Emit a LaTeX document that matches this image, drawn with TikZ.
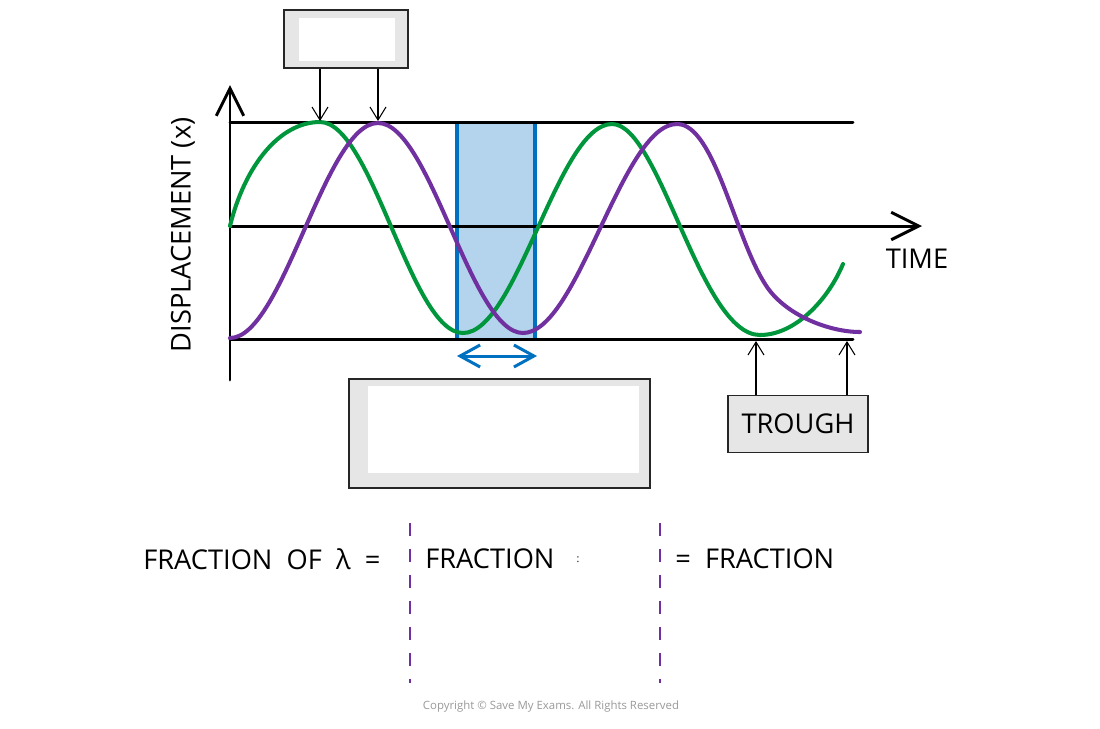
\documentclass[tikz,border=0pt]{standalone}
\usepackage{fontspec}
\setmainfont{Open Sans}
\usetikzlibrary{arrows.meta}

\definecolor{wavegreen}{HTML}{00963C}
\definecolor{wavepurple}{HTML}{7030A0}
\definecolor{markblue}{HTML}{0070C0}
\definecolor{shadeblue}{HTML}{B3D4EC}
\definecolor{boxgrey}{HTML}{E6E6E6}

\tikzset{
  label/.style={font=\fontsize{15.5}{18}\selectfont, inner sep=0pt},
  greybox/.style={draw=black!85, fill=boxgrey, line width=0.7pt, inner sep=0pt},
  pointer/.style={line width=0.6pt, -{Straight Barb[length=2.6mm, width=3.2mm]}},
  axis/.style={line width=1.7pt, line cap=round},
  wave/.style={line width=2.3pt, line cap=round},
}

\begin{document}
\begin{tikzpicture}[x=0.02cm, y=-0.02cm]
\useasboundingbox (0,0) rectangle (1100,728);

%% The shaded strip between two points in phase goes underneath everything else
    \fill[shadeblue] (457,122) rectangle (535,339);
    \draw[markblue, line width=2.2pt] (457,122) -- (457,339);
    \draw[markblue, line width=2.2pt] (535,122) -- (535,339);

%% Axes and the lines for the peaks and the troughs
    \coordinate (origin) at (230,380);
    \coordinate (ytop) at (230,85);
    \coordinate (xend) at (922,226);
    \draw[axis, -{Straight Barb[length=5.5mm, width=5.5mm]}] (origin) -- (ytop);
    \draw[axis, -{Straight Barb[length=5.5mm, width=5.5mm]}] (230,226) -- (xend);
    \draw[axis] (230,122) -- (853,122);
    \draw[axis] (230,339) -- (853,339);

    \node[label] (time) at (917,259) {TIME};
    \node[label, rotate=90] (disp) at (183,235) {DISPLACEMENT (x)};

%% The two waves, one cubic piece from each crest to the next trough
    \draw[wave, wavegreen] (230,226) .. controls (245,165) and (280,122) .. (320,122)
      .. controls (372,122) and (411,333) .. (463,333)
      .. controls (517,333) and (558,124) .. (612,124)
      .. controls (660,124) and (700,335) .. (760,335)
      .. controls (795,335) and (828,300) .. (843,264);
    \draw[wave, wavepurple] (230,338) .. controls (283,338) and (325,123) .. (378,123)
      .. controls (430,123) and (471,333) .. (523,333)
      .. controls (578,333) and (622,124) .. (677,124)
      .. controls (715,124) and (735,240) .. (767,287)
      .. controls (787,316) and (830,332) .. (860,332);

%% Double arrow under the strip
    \coordinate (strip left) at (457,356);
    \coordinate (strip right) at (537,356);
    \draw[markblue, line width=1.7pt, {Straight Barb[length=4mm, width=4.4mm]}-{Straight Barb[length=4mm, width=4.4mm]}] (strip left) -- (strip right);

%% Empty boxes and the trough box, with their pointers
    \node[greybox, minimum width=2.48cm, minimum height=1.16cm] (topbox) at (346,39) {};
    \fill[white] (299,18) rectangle (395,61);
    \coordinate (peak green) at (320,121);
    \coordinate (peak purple) at (378,121);
    \draw[pointer] (topbox.south -| peak green) -- (peak green);
    \draw[pointer] (topbox.south -| peak purple) -- (peak purple);

    \node[greybox, minimum width=6.02cm, minimum height=2.18cm] (midbox) at (499.5,433.5) {};
    \fill[white] (368,386) rectangle (639,473);

    \node[greybox, label, minimum width=2.8cm, minimum height=1.14cm] (troughbox) at (798,424) {TROUGH};
    \coordinate (trough green) at (756,341);
    \coordinate (trough purple) at (847,341);
    \draw[pointer] (troughbox.north -| trough green) -- (trough green);
    \draw[pointer] (troughbox.north -| trough purple) -- (trough purple);

%% The fraction line and the dashed dividers
    \node[label, anchor=west] (frac) at (143,559) {FRACTION \ OF \ λ \ =};
    \node[label, anchor=west] (frac2) at (425,559) {FRACTION};
    \node[font=\fontsize{6}{7}\selectfont, inner sep=0pt] (divide) at (578,560) {:};
    \node[label, anchor=west] (frac3) at (675,559) {= \ FRACTION};
    \draw[wavepurple, line width=1.1pt, dash pattern=on 0.26cm off 0.26cm] (410,523) -- (410,683);
    \draw[wavepurple, line width=1.1pt, dash pattern=on 0.26cm off 0.26cm] (660,523) -- (660,683);

    \node[font=\fontsize{6.5}{8}\selectfont, text=black!40, inner sep=0pt] (copy) at (551,707) {Copyright © Save My Exams. All Rights Reserved};
\end{tikzpicture}
\end{document}
